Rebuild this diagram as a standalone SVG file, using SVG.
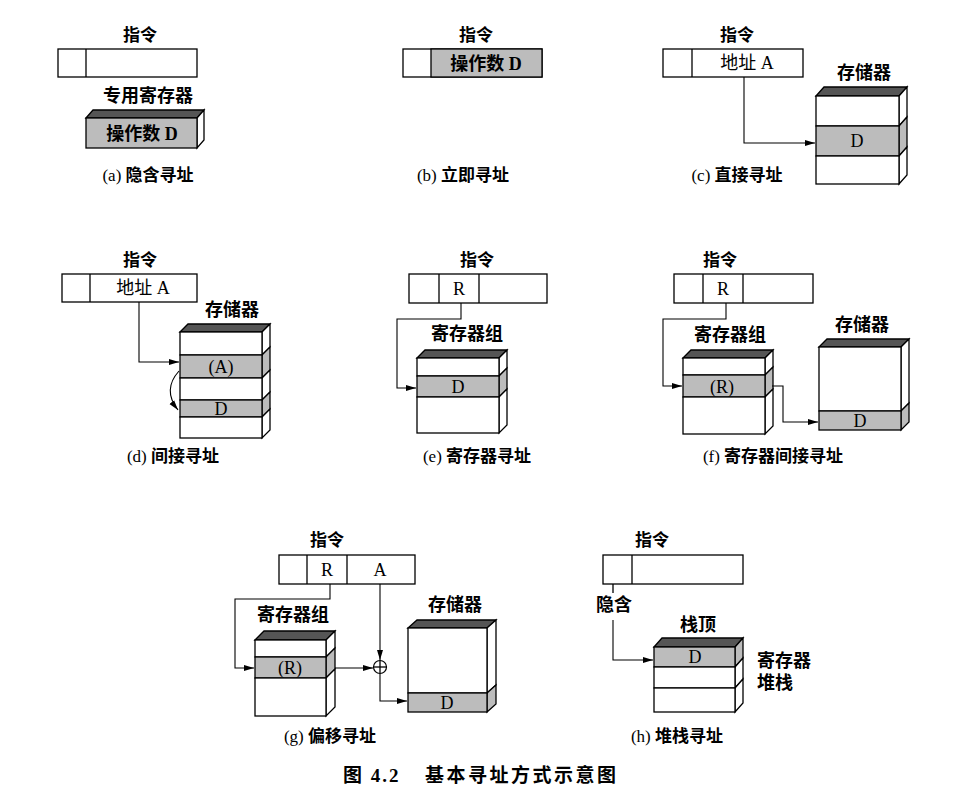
<svg xmlns="http://www.w3.org/2000/svg" width="956" height="802" viewBox="0 0 956 802">
<defs>
<marker id="arr" markerWidth="11" markerHeight="8" refX="10" refY="4" orient="auto" markerUnits="userSpaceOnUse">
<path d="M0,1 L10,4 L0,7 Z" fill="#000"/>
</marker>
<style>
.box{fill:#fff;stroke:#000;stroke-width:1.3}
.gray{fill:#bcbcbc;stroke:#000;stroke-width:1.3}
.top{fill:#555;stroke:#000;stroke-width:1.3}
.ln{fill:none;stroke:#000;stroke-width:1.3}
.conn{fill:none;stroke:#000;stroke-width:1.1;marker-end:url(#arr)}
.lbl{font-family:"Liberation Serif","Noto Sans CJK SC",serif;font-size:18px;font-weight:bold;text-anchor:middle;fill:#000}
.hd{font-family:"Liberation Serif","Noto Sans CJK SC",serif;font-size:17px;font-weight:bold;text-anchor:middle;fill:#000}
.txt{font-family:"Liberation Serif","Noto Sans CJK SC",serif;font-size:18px;text-anchor:middle;fill:#000}
.cap{font-family:"Liberation Serif","Noto Sans CJK SC",serif;font-size:17px;font-weight:bold;text-anchor:middle;fill:#000}
.nb{font-weight:normal}
.side{font-family:"Liberation Serif","Noto Sans CJK SC",serif;font-size:18px;font-weight:bold;text-anchor:start;fill:#000}
</style>
</defs>
<rect width="956" height="802" fill="#fff"/>

<!-- (a) -->
<g id="a-inst">
<text class="hd" x="140" y="41">指令</text>
<rect class="box" x="58" y="49" width="139" height="28"/>
<line class="ln" x1="86" y1="49" x2="86" y2="77"/>
</g>
<g id="a-reg">
<text class="lbl" x="148" y="102">专用寄存器</text>
<polygon class="top" points="86,118 93,110 204,110 197,118"/>
<polygon class="box" points="197,118 204,110 204,140 197,148"/>
<rect class="gray" x="86" y="118" width="111" height="30"/>
<text class="lbl" x="142" y="140">操作数 D</text>
</g>
<text class="cap" x="148" y="181"><tspan class="nb">(a)</tspan> 隐含寻址</text>

<!-- (b) -->
<g id="b-inst">
<text class="hd" x="476" y="41">指令</text>
<rect class="box" x="403" y="49" width="139" height="28"/>
<rect class="gray" x="431" y="49" width="111" height="28"/>
<text class="lbl" x="486" y="70">操作数 D</text>
</g>
<text class="cap" x="463" y="181"><tspan class="nb">(b)</tspan> 立即寻址</text>

<!-- (c) -->
<g id="c-inst">
<text class="hd" x="737" y="41">指令</text>
<rect class="box" x="663" y="49" width="140" height="28"/>
<line class="ln" x1="692" y1="49" x2="692" y2="77"/>
<text class="txt" x="747" y="69">地址 A</text>
</g>
<g id="c-mem">
<text class="lbl" x="864" y="79">存储器</text>
<polygon class="top" points="816,96 824,87 907,87 899,96"/>
<polygon class="box" points="899,96 907,87 907,117 899,126"/>
<polygon class="gray" points="899,126 907,117 907,147 899,156"/>
<polygon class="box" points="899,156 907,147 907,175 899,184"/>
<rect class="box" x="816" y="96" width="83" height="30"/>
<rect class="gray" x="816" y="126" width="83" height="30"/>
<rect class="box" x="816" y="156" width="83" height="28"/>
<text class="txt" x="857" y="147">D</text>
</g>
<text class="cap" x="737" y="181"><tspan class="nb">(c)</tspan> 直接寻址</text>

<!-- (d) -->
<g id="d-inst">
<text class="hd" x="140" y="266">指令</text>
<rect class="box" x="62" y="274" width="135" height="28"/>
<line class="ln" x1="90" y1="274" x2="90" y2="302"/>
<text class="txt" x="143" y="294">地址 A</text>
</g>
<g id="d-mem">
<text class="lbl" x="232" y="316">存储器</text>
<polygon class="top" points="180,332 188,324 270,324 262,332"/>
<polygon class="box" points="262,332 270,324 270,347 262,355"/>
<polygon class="gray" points="262,355 270,347 270,370 262,378"/>
<polygon class="box" points="262,378 270,370 270,392 262,400"/>
<polygon class="gray" points="262,400 270,392 270,409 262,417"/>
<polygon class="box" points="262,417 270,409 270,430 262,438"/>
<rect class="box" x="180" y="332" width="82" height="23"/>
<rect class="gray" x="180" y="355" width="82" height="23"/>
<rect class="box" x="180" y="378" width="82" height="22"/>
<rect class="gray" x="180" y="400" width="82" height="17"/>
<rect class="box" x="180" y="417" width="82" height="21"/>
<text class="txt" x="221" y="373">(A)</text>
<text class="txt" x="221" y="415">D</text>
</g>
<text class="cap" x="173" y="462"><tspan class="nb">(d)</tspan> 间接寻址</text>

<!-- (e) -->
<g id="e-inst">
<text class="hd" x="477" y="266">指令</text>
<rect class="box" x="409" y="274" width="138" height="29"/>
<line class="ln" x1="439" y1="274" x2="439" y2="303"/>
<line class="ln" x1="479" y1="274" x2="479" y2="303"/>
<text class="txt" x="459" y="295">R</text>
</g>
<g id="e-reg">
<text class="lbl" x="467" y="340">寄存器组</text>
<polygon class="top" points="417,358 425,350 507,350 499,358"/>
<polygon class="box" points="499,358 507,350 507,368 499,376"/>
<polygon class="gray" points="499,376 507,368 507,389 499,397"/>
<polygon class="box" points="499,397 507,389 507,425 499,433"/>
<rect class="box" x="417" y="358" width="82" height="18"/>
<rect class="gray" x="417" y="376" width="82" height="21"/>
<rect class="box" x="417" y="397" width="82" height="36"/>
<text class="txt" x="458" y="393">D</text>
</g>
<text class="cap" x="477" y="462"><tspan class="nb">(e)</tspan> 寄存器寻址</text>

<!-- (f) -->
<g id="f-inst">
<text class="hd" x="720" y="266">指令</text>
<rect class="box" x="674" y="274" width="139" height="29"/>
<line class="ln" x1="703" y1="274" x2="703" y2="303"/>
<line class="ln" x1="743" y1="274" x2="743" y2="303"/>
<text class="txt" x="723" y="295">R</text>
</g>
<g id="f-reg">
<text class="lbl" x="730" y="341">寄存器组</text>
<polygon class="top" points="683,358 691,350 773,350 765,358"/>
<polygon class="box" points="765,358 773,350 773,367 765,375"/>
<polygon class="gray" points="765,375 773,367 773,389 765,397"/>
<polygon class="box" points="765,397 773,389 773,426 765,434"/>
<rect class="box" x="683" y="358" width="82" height="17"/>
<rect class="gray" x="683" y="375" width="82" height="22"/>
<rect class="box" x="683" y="397" width="82" height="37"/>
<text class="txt" x="722" y="393">(R)</text>
</g>
<g id="f-mem">
<text class="lbl" x="862" y="331">存储器</text>
<polygon class="top" points="819,347 827,339 909,339 901,347"/>
<polygon class="box" points="901,347 909,339 909,403 901,411"/>
<polygon class="gray" points="901,411 909,403 909,422 901,430"/>
<rect class="box" x="819" y="347" width="82" height="64"/>
<rect class="gray" x="819" y="411" width="82" height="19"/>
<text class="txt" x="860" y="427">D</text>
</g>
<text class="cap" x="773" y="462"><tspan class="nb">(f)</tspan> 寄存器间接寻址</text>

<!-- (g) -->
<g id="g-inst">
<text class="hd" x="327" y="546">指令</text>
<rect class="box" x="279" y="555" width="136" height="29"/>
<line class="ln" x1="307" y1="555" x2="307" y2="584"/>
<line class="ln" x1="347" y1="555" x2="347" y2="584"/>
<text class="txt" x="327" y="576">R</text>
<text class="txt" x="380" y="576">A</text>
</g>
<g id="g-reg">
<text class="lbl" x="293" y="621">寄存器组</text>
<polygon class="top" points="255,640 264,631 335,631 326,640"/>
<polygon class="box" points="326,640 335,631 335,648 326,657"/>
<polygon class="gray" points="326,657 335,648 335,669 326,678"/>
<polygon class="box" points="326,678 335,669 335,707 326,716"/>
<rect class="box" x="255" y="640" width="71" height="17"/>
<rect class="gray" x="255" y="657" width="71" height="21"/>
<rect class="box" x="255" y="678" width="71" height="38"/>
<text class="txt" x="290" y="674">(R)</text>
</g>
<g id="g-add">
<circle cx="380" cy="667" r="6.5" fill="#fff" stroke="#000" stroke-width="1.2"/>
<line class="ln" x1="373.5" y1="667" x2="386.5" y2="667" stroke-width="1"/>
<line class="ln" x1="380" y1="660.5" x2="380" y2="673.5" stroke-width="1"/>
</g>
<g id="g-mem">
<text class="lbl" x="455" y="611">存储器</text>
<polygon class="top" points="408,628 417,620 496,620 487,628"/>
<polygon class="box" points="487,628 496,620 496,685 487,693"/>
<polygon class="gray" points="487,693 496,685 496,704 487,712"/>
<rect class="box" x="408" y="628" width="79" height="65"/>
<rect class="gray" x="408" y="693" width="79" height="19"/>
<text class="txt" x="447" y="709">D</text>
</g>
<text class="cap" x="330" y="742"><tspan class="nb">(g)</tspan> 偏移寻址</text>

<!-- (h) -->
<g id="h-inst">
<text class="hd" x="652" y="546">指令</text>
<rect class="box" x="603" y="555" width="140" height="29"/>
<line class="ln" x1="632" y1="555" x2="632" y2="584"/>
</g>
<text class="lbl" x="614" y="611">隐含</text>
<g id="h-stack">
<text class="lbl" x="698" y="631">栈顶</text>
<polygon class="top" points="654,647 662,638 743,638 735,647"/>
<polygon class="gray" points="735,647 743,638 743,658 735,667"/>
<polygon class="box" points="735,667 743,658 743,679 735,688"/>
<polygon class="box" points="735,688 743,679 743,703 735,712"/>
<rect class="gray" x="654" y="647" width="81" height="20"/>
<rect class="box" x="654" y="667" width="81" height="21"/>
<rect class="box" x="654" y="688" width="81" height="24"/>
<text class="txt" x="695" y="663">D</text>
<text class="side" x="757" y="667">寄存器</text>
<text class="side" x="757" y="689">堆栈</text>
</g>
<text class="cap" x="677" y="742"><tspan class="nb">(h)</tspan> 堆栈寻址</text>

<!-- connectors -->
<g id="connectors">
<path class="conn" d="M744,77 V143 H815"/>
<path class="conn" d="M139,302 V362 H179"/>
<path class="conn" d="M179,371 Q162,390 178,410"/>
<path class="conn" d="M461,303 V319 H397 V388 H416"/>
<path class="conn" d="M726,303 V319 H663 V386 H682"/>
<path class="conn" d="M772,386 H783 V422 H818"/>
<path class="conn" d="M330,584 V599 H235 V668 H254"/>
<path class="conn" d="M380,584 V660"/>
<path class="conn" d="M335,668 H373"/>
<path class="conn" d="M380,674 V701 H407"/>
<path class="ln" d="M613,584 V593" stroke-width="1.1"/>
<path class="conn" d="M613,620 V660 H653"/>
</g>

<g id="caption">
<text class="lbl" x="343" y="782" style="font-size:19px;text-anchor:start;letter-spacing:2px">图 4.2</text>
<text class="lbl" x="425" y="782" style="font-size:19px;text-anchor:start;letter-spacing:2.5px">基本寻址方式示意图</text>
</g>
</svg>
